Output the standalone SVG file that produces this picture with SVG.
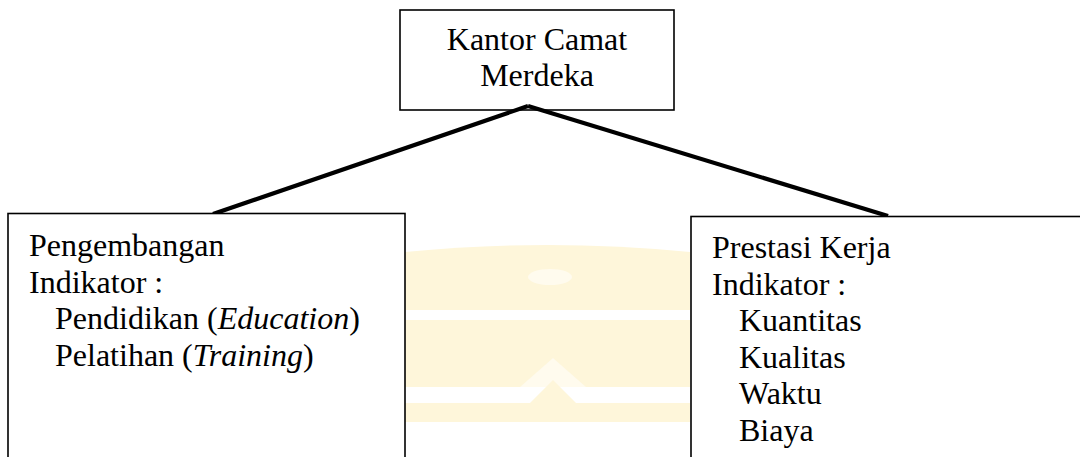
<svg xmlns="http://www.w3.org/2000/svg" width="1080" height="457" viewBox="0 0 1080 457">
<style>
.box{fill:#fff;stroke:#000;stroke-width:1.6}
.t{font-family:'Liberation Serif','Times New Roman',Tinos,'DejaVu Serif',serif;font-size:32px;fill:#000}
.wm{fill:#fef6da}
.conn{stroke:#000;stroke-width:4.2;fill:none;stroke-linecap:butt}
</style>
<rect width="1080" height="457" fill="#fff"/>
<g id="watermark">
<path class="wm" d="M405 252 Q548 238 690 252 L690 310 L405 310 Z"/>
<ellipse cx="550" cy="277" rx="22" ry="8" fill="#fffbee"/>
<rect class="wm" x="405" y="320" width="285" height="67"/>
<path d="M520 387 L553 358 L586 387 Z" fill="#fffbee"/>
<rect class="wm" x="405" y="403" width="285" height="19"/>
<path class="wm" d="M530 403 L553 380 L576 403 Z"/>
</g>
<g id="connectors">
<line class="conn" x1="528" y1="106" x2="213" y2="214"/>
<line class="conn" x1="528" y1="106" x2="888" y2="216"/>
</g>
<g id="node-kantor">
<rect class="box" x="400" y="10" width="274" height="100" style="fill:none"/>
<text class="t" x="537" y="50" text-anchor="middle">Kantor Camat</text>
<text class="t" x="537" y="86" text-anchor="middle">Merdeka</text>
</g>
<g id="node-pengembangan">
<rect class="box" x="8" y="213.5" width="397" height="260"/>
<text class="t" x="29" y="256">Pengembangan</text>
<text class="t" x="29" y="292.5">Indikator :</text>
<text class="t" x="55" y="329">Pendidikan (<tspan font-style="italic">Education</tspan>)</text>
<text class="t" x="55" y="365.5">Pelatihan (<tspan font-style="italic">Training</tspan>)</text>
</g>
<g id="node-prestasi">
<rect class="box" x="691" y="216.5" width="400" height="260"/>
<text class="t" x="712" y="258">Prestasi Kerja</text>
<text class="t" x="712" y="294.5">Indikator :</text>
<text class="t" x="739" y="331">Kuantitas</text>
<text class="t" x="739" y="367.5">Kualitas</text>
<text class="t" x="739" y="404">Waktu</text>
<text class="t" x="739" y="440.5">Biaya</text>
</g>
</svg>
